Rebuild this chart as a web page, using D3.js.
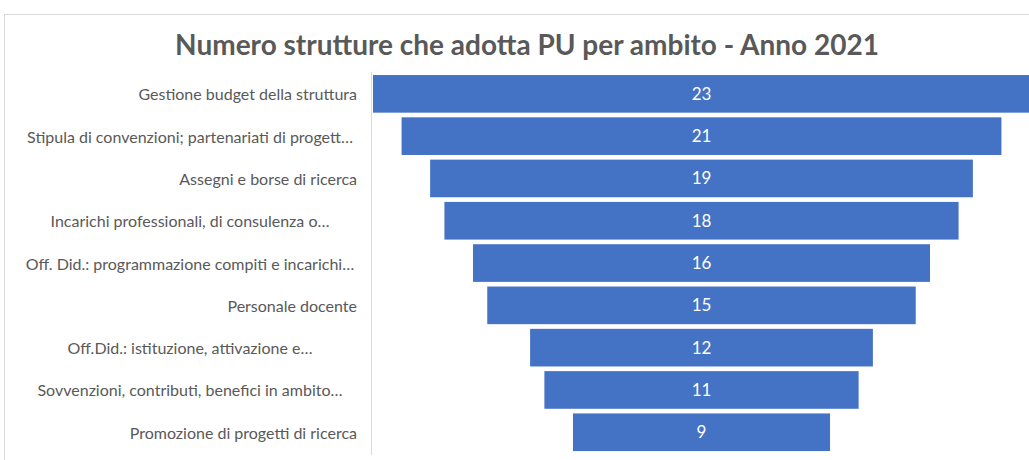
<!DOCTYPE html>
<html>
<head>
<meta charset="utf-8">
<script src="https://cdn.jsdelivr.net/npm/d3@7"></script>
<style>
  body { margin: 0; background: #fff; }
  svg { display: block; }
</style>
</head>
<body>
<div id="chart"></div>
<script>
// chart data
var categories = [
    "Gestione budget della struttura",
    "Stipula di convenzioni; partenariati di progett…",
    "Assegni e borse di ricerca",
    "Incarichi professionali, di consulenza o…",
    "Off. Did.: programmazione compiti e incarichi…",
    "Personale docente",
    "Off.Did.: istituzione, attivazione e…",
    "Sovvenzioni, contributi, benefici in ambito…",
    "Promozione di progetti di ricerca"
];
var values = [23, 21, 19, 18, 16, 15, 12, 11, 9];
var title = "Numero strutture che adotta PU per ambito - Anno 2021";

var width = 1029,
    height = 460;

var svg = d3.select("#chart")
    .append("svg")
    .attr("width", width)
    .attr("height", height);

// chart area border (cropped at right / bottom like the screenshot)
svg.append("rect")
    .attr("x", 4.5)
    .attr("y", 14.5)
    .attr("width", width + 10)
    .attr("height", height)
    .attr("fill", "#fff")
    .attr("stroke", "#d9d9d9");

svg.append("text")
    .attr("x", 527)
    .attr("y", 55)
    .attr("text-anchor", "middle")
    .attr("fill", "#595959")
    .style("font-family", "Lato, 'Open Sans', sans-serif")
    .style("font-size", "28px")
    .style("font-weight", "bold")
    .text(title);

var centerX = 701.5;

// half width is used so the funnel stays centered
var x = d3.scaleLinear()
    .domain([0, 23])
    .range([0, 657]);

var y = d3.scaleBand()
    .domain(categories)
    .range([72.7, 453.4])
    .paddingInner(0.11)
    .paddingOuter(0.055);

// vertical axis line
svg.append("line")
    .attr("x1", 371.5)
    .attr("x2", 371.5)
    .attr("y1", 72)
    .attr("y2", 455)
    .attr("stroke", "#d9d9d9");

var rows = categories.map(function(c, i) { return {cat: c, val: values[i]}; });

svg.selectAll("rect.bar")
    .data(rows)
    .enter()
    .append("rect")
    .attr("class", "bar")
    .attr("x", function(d) { return centerX - x(d.val) / 2; })
    .attr("y", function(d) { return y(d.cat); })
    .attr("width", function(d) { return x(d.val); })
    .attr("height", y.bandwidth())
    .attr("fill", "#4472c4");

svg.selectAll("text.val")
    .data(rows)
    .enter()
    .append("text")
    .attr("class", "val")
    .attr("x", centerX)
    .attr("y", function(d) { return y(d.cat) + y.bandwidth() / 2 + 6; })
    .attr("text-anchor", "middle")
    .attr("fill", "#fff")
    .style("font-family", "Lato, 'Open Sans', sans-serif")
    .style("font-size", "17px")
    .text(function(d) { return d.val; });

// category labels: full ones right aligned, truncated ones centered (as Excel does)
svg.selectAll("text.cat")
    .data(rows)
    .enter()
    .append("text")
    .attr("class", "cat")
    .attr("x", function(d) { return d.cat.endsWith("…") ? 190 : 357; })
    .attr("y", function(d) { return y(d.cat) + y.bandwidth() / 2 + 6.5; })
    .attr("text-anchor", function(d) { return d.cat.endsWith("…") ? "middle" : "end"; })
    .attr("fill", "#595959")
    .style("font-family", "Lato, 'Open Sans', sans-serif")
    .style("font-size", "16px")
    .text(function(d) { return d.cat; });
</script>
</body>
</html>
